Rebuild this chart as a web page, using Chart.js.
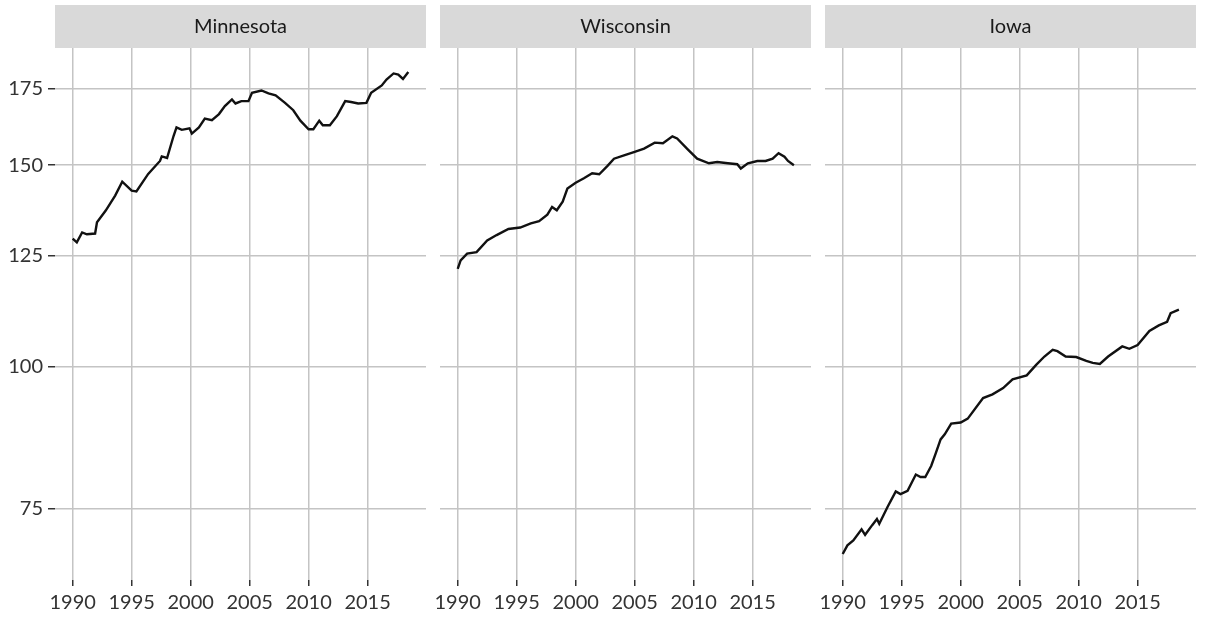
<!DOCTYPE html>
<html>
<head>
<meta charset="utf-8">
<script src="https://cdn.jsdelivr.net/npm/chart.js@4/dist/chart.umd.min.js"></script>
<style>
  body { margin: 0; background: #fff; width: 1207px; height: 618px; overflow: hidden; position: relative; }
  .panel { position: absolute; top: 0; height: 618px; }
</style>
</head>
<body>
<div class="panel" style="left:0;width:446px"><canvas id="mn"></canvas></div>
<div class="panel" style="left:420px;width:411px"><canvas id="wi"></canvas></div>
<div class="panel" style="left:805px;width:402px"><canvas id="ia"></canvas></div>
<script>
const states = ['Minnesota', 'Wisconsin', 'Iowa'];
const xTicks = [1990, 1995, 2000, 2005, 2010, 2015];
const yTicks = [75, 100, 125, 150, 175];

const mnYears = [1990.0, 1990.35, 1990.8, 1991.2, 1991.9, 1992.06, 1992.8, 1993.6, 1994.2, 1995.0,
  1995.4, 1996.4, 1997.4, 1997.55, 1998.0, 1998.55, 1998.8, 1999.25, 1999.9, 2000.1,
  2000.7, 2001.2, 2001.8, 2002.4, 2002.9, 2003.5, 2003.8, 2004.3, 2004.9, 2005.2,
  2006.0, 2006.6, 2007.2, 2008.0, 2008.7, 2009.3, 2010.0, 2010.4, 2010.9, 2011.2,
  2011.8, 2012.4, 2013.1, 2013.6, 2014.2, 2014.9, 2015.3, 2016.2, 2016.6, 2017.2,
  2017.6, 2018.0, 2018.45];
const mnValues = [129.4, 128.4, 131.0, 130.5, 130.7, 133.7, 136.9, 141.1, 145.1, 142.5,
  142.3, 147.4, 151.3, 152.7, 152.2, 159.1, 161.9, 161.1, 161.6, 159.9,
  161.9, 164.8, 164.3, 166.3, 169.0, 171.3, 169.9, 170.7, 170.7, 173.6,
  174.4, 173.4, 172.7, 170.1, 167.6, 164.1, 161.3, 161.3, 164.1, 162.6,
  162.6, 165.6, 170.7, 170.4, 169.9, 170.1, 173.6, 176.2, 178.3, 180.5,
  180.1, 178.5, 181.0];

const wiYears = [1990.0, 1990.25, 1990.8, 1991.6, 1992.5, 1993.3, 1994.3, 1995.3, 1996.2, 1996.9,
  1997.6, 1998.0, 1998.4, 1998.9, 1999.3, 2000.0, 2000.7, 2001.4, 2002.0, 2002.7,
  2003.25, 2004.1, 2005.0, 2005.8, 2006.7, 2007.4, 2008.2, 2008.6, 2009.5, 2010.3,
  2011.3, 2012.0, 2012.9, 2013.7, 2014.0, 2014.6, 2015.4, 2016.1, 2016.7, 2017.2,
  2017.7, 2018.0, 2018.5];
const wiValues = [121.7, 123.8, 125.5, 125.9, 128.9, 130.3, 131.9, 132.3, 133.4, 134.0,
  135.8, 137.9, 137.0, 139.4, 143.1, 144.8, 146.1, 147.6, 147.3, 149.8,
  152.0, 153.0, 154.1, 155.1, 157.0, 156.8, 159.0, 158.3, 154.9, 152.0,
  150.6, 151.0, 150.6, 150.3, 149.0, 150.6, 151.3, 151.3, 152.0, 153.7,
  152.6, 151.3, 150.0];

const iaYears = [1990.0, 1990.4, 1990.9, 1991.6, 1991.9, 1992.5, 1992.9, 1993.1, 1993.8, 1994.5,
  1994.9, 1995.5, 1996.2, 1996.6, 1997.0, 1997.5, 1997.9, 1998.3, 1998.65, 1999.2,
  2000.0, 2000.6, 2001.9, 2002.7, 2003.6, 2004.4, 2005.6, 2006.4, 2007.1, 2007.8,
  2008.2, 2008.9, 2009.8, 2010.65, 2011.2, 2011.8, 2012.5, 2013.7, 2014.3, 2015.0,
  2016.0, 2016.8, 2017.5, 2017.8, 2018.5];
const iaValues = [68.5, 69.7, 70.4, 72.0, 71.2, 72.6, 73.5, 72.8, 75.3, 77.7,
  77.3, 77.8, 80.4, 80.0, 80.0, 81.8, 84.0, 86.3, 87.2, 89.1,
  89.3, 90.0, 93.8, 94.5, 95.7, 97.4, 98.2, 100.3, 102.0, 103.4,
  103.1, 102.0, 101.9, 101.1, 100.7, 100.5, 102.0, 104.1, 103.6, 104.4,
  107.4, 108.6, 109.4, 111.3, 112.1];

Chart.defaults.font.family = 'Lato';
Chart.defaults.font.size = 20;
Chart.defaults.color = '#333';

const gridColor = '#c4c4c4';

// grey strip with the state name above each panel
const stripPlugin = {
    id: 'strip',
    beforeDraw(chart, args, opts) {
        const { ctx, chartArea } = chart;
        ctx.save();
        ctx.fillStyle = '#d9d9d9';
        ctx.fillRect(chartArea.left, 5, chartArea.right - chartArea.left, chartArea.top - 5);
        ctx.fillStyle = '#1a1a1a';
        ctx.font = '20px Lato';
        ctx.textAlign = 'center';
        ctx.textBaseline = 'middle';
        ctx.fillText(opts.text, (chartArea.left + chartArea.right) / 2, 27);
        ctx.restore();
    }
};

function makeChart(id, title, years, values, showY, padLeft, padRight) {
    const points = years.map((yr, i) => ({ x: yr, y: values[i] }));
    return new Chart(document.getElementById(id), {
        type: 'line',
        data: {
            datasets: [{
                label: title,
                data: points,
                borderColor: '#111',
                borderWidth: 2.4,
                pointRadius: 0,
                tension: 0,
                fill: false
            }]
        },
        plugins: [stripPlugin],
        options: {
            responsive: true,
            maintainAspectRatio: false,
            animation: false,
            layout: { padding: { top: 48, bottom: 0, left: padLeft, right: padRight } },
            plugins: {
                legend: { display: false },
                tooltip: { enabled: false },
                strip: { text: title }
            },
            scales: {
                x: {
                    type: 'linear',
                    min: 1988.5,
                    max: 2019.95,
                    afterBuildTicks: scale => { scale.ticks = xTicks.map(v => ({ value: v })); },
                    afterFit: scale => { scale.height = 38; scale.paddingLeft = 0; scale.paddingRight = 0; },
                    border: { display: false },
                    grid: { color: gridColor, lineWidth: 1.5, tickLength: 6, tickColor: '#333', tickWidth: 1.5 },
                    ticks: { padding: 5, maxRotation: 0, callback: v => String(v) }
                },
                y: {
                    type: 'logarithmic',
                    min: 65,
                    max: 190,
                    afterBuildTicks: scale => { scale.ticks = yTicks.map(v => ({ value: v })); },
                    afterFit: scale => { scale.width = showY ? 55 : 0; },
                    border: { display: false },
                    grid: { color: gridColor, lineWidth: 1.5, drawTicks: showY, tickLength: 7, tickColor: '#333', tickWidth: 1.5 },
                    ticks: { display: showY, padding: 5, callback: v => String(v) }
                }
            }
        }
    });
}

makeChart('mn', states[0], mnYears, mnValues, true, 0, 20);
makeChart('wi', states[1], wiYears, wiValues, false, 20, 20);
makeChart('ia', states[2], iaYears, iaValues, false, 20, 11);
</script>
</body>
</html>
